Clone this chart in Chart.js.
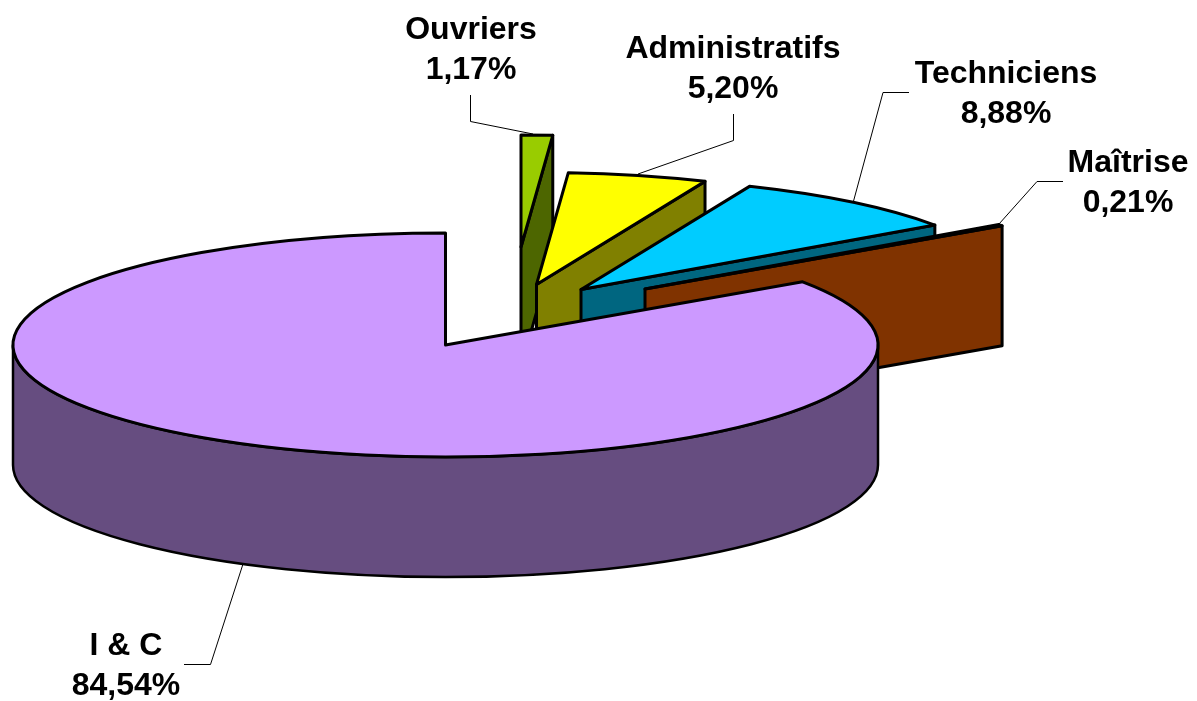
<!DOCTYPE html>
<html lang="fr">
<head>
<meta charset="utf-8">
<title>Répartition</title>
<style>html,body{margin:0;padding:0;background:#fff}#box{position:absolute;left:0;top:0;width:1197px;height:701px}</style>
<script src="https://cdn.jsdelivr.net/npm/chart.js@4"></script>
</head>
<body>
<div id="box"><canvas id="c" width="1197" height="701"></canvas></div>
<script>
const categories = ["Ouvriers", "Administratifs", "Techniciens", "Maîtrise", "I & C"];
const shares = [1.17, 5.20, 8.88, 0.21, 84.54];
const shareLabels = ["1,17%", "5,20%", "8,88%", "0,21%", "84,54%"];

const topColors = ["#99CC00", "#FFFF00", "#00CCFF", "#FF6600", "#CC99FF"];
const wallColors = ["#4D6600", "#808000", "#006680", "#803300", "#664D80"];

// 3D look of the drawing (page pixels)
const view = { cx: 445.5, cy: 345, rx: 432.5, ry: 112, depth: 120 };
const explode = [[75.5, -98], [91, -60.5], [135.5, -55.5], [199.5, -56], [0, 0]];
const labelBoxes = [[471, 39], [733, 58], [1006, 83], [1128, 172], [126, 655]];
const leaders = [
  [[470.5, 95], [470.5, 121.5], [533, 134]],
  [[733.5, 114], [733.5, 140.5], [638, 174]],
  [[909, 92.5], [883, 92.5], [853, 203]],
  [[1063, 181.5], [1037, 181.5], [999, 224]],
  [[184, 664.5], [210.5, 664.5], [243, 564]]
];
const FONT = 'bold 32px "Liberation Sans", Arial, sans-serif';
const LINE_H = 40;

const tilted = {
  id: 'tilted',
  beforeDatasetsDraw(chart) {
    const ctx = chart.ctx;
    const meta = chart.getDatasetMeta(0);
    const full = meta.controller.outerRadius;
    meta.data.forEach((arc, i) => {
      const p = arc.getProps(['startAngle', 'endAngle', 'outerRadius'], true);
      const rx = view.rx * p.outerRadius / full;
      const ry = view.ry * p.outerRadius / full;
      const ox = view.cx + explode[i][0], oy = view.cy + explode[i][1];
      const d = view.depth;
      const px = a => ox + rx * Math.cos(a), py = a => oy + ry * Math.sin(a);
      const s = p.startAngle, e = p.endAngle;
      const style = (fill, lw) => {
        ctx.fillStyle = fill; ctx.strokeStyle = '#000'; ctx.lineWidth = lw; ctx.lineJoin = 'round';
        ctx.fill(); ctx.stroke();
      };
      const radialWall = a => {
        ctx.beginPath();
        ctx.moveTo(ox, oy); ctx.lineTo(px(a), py(a));
        ctx.lineTo(px(a), py(a) + d); ctx.lineTo(ox, oy + d); ctx.closePath();
        style(wallColors[i], 3);
      };
      // radial faces turned towards the viewer
      if (Math.sin(e + Math.PI / 2) > 1e-6) radialWall(e);
      if (Math.sin(s + Math.PI / 2) < -1e-6) radialWall(s);
      // rim, only the part on the near half of the ellipse
      const a0 = Math.max(s, 0), a1 = Math.min(e, Math.PI);
      if (a1 > a0) {
        ctx.beginPath();
        ctx.ellipse(ox, oy, rx, ry, 0, a0, a1);
        ctx.lineTo(px(a1), py(a1) + d);
        ctx.ellipse(ox, oy + d, rx, ry, 0, a1, a0, true);
        ctx.closePath();
        style(wallColors[i], 2.5);
      }
      // top face
      ctx.beginPath();
      ctx.moveTo(ox, oy);
      ctx.ellipse(ox, oy, rx, ry, 0, s, e);
      ctx.closePath();
      style(topColors[i], 3);
    });
    return false;
  },
  afterDraw(chart) {
    const ctx = chart.ctx;
    ctx.save();
    ctx.strokeStyle = '#000'; ctx.lineWidth = 1;
    leaders.forEach(l => {
      ctx.beginPath();
      l.forEach((pt, k) => k ? ctx.lineTo(pt[0], pt[1]) : ctx.moveTo(pt[0], pt[1]));
      ctx.stroke();
    });
    ctx.font = FONT; ctx.fillStyle = '#000'; ctx.textAlign = 'center'; ctx.textBaseline = 'alphabetic';
    categories.forEach((name, i) => {
      const [x, y] = labelBoxes[i];
      ctx.fillText(name, x, y);
      ctx.fillText(shareLabels[i], x, y + LINE_H);
    });
    ctx.restore();
  }
};

new Chart(document.getElementById('c'), {
  type: 'pie',
  data: {
    labels: categories,
    datasets: [{ data: shares, backgroundColor: topColors, borderColor: '#000', borderWidth: 0 }]
  },
  options: {
    responsive: false,
    animation: false,
    rotation: 0,
    layout: { padding: 0 },
    plugins: { legend: { display: false }, tooltip: { enabled: false }, title: { display: false } }
  },
  plugins: [tilted]
});
</script>
</body>
</html>
